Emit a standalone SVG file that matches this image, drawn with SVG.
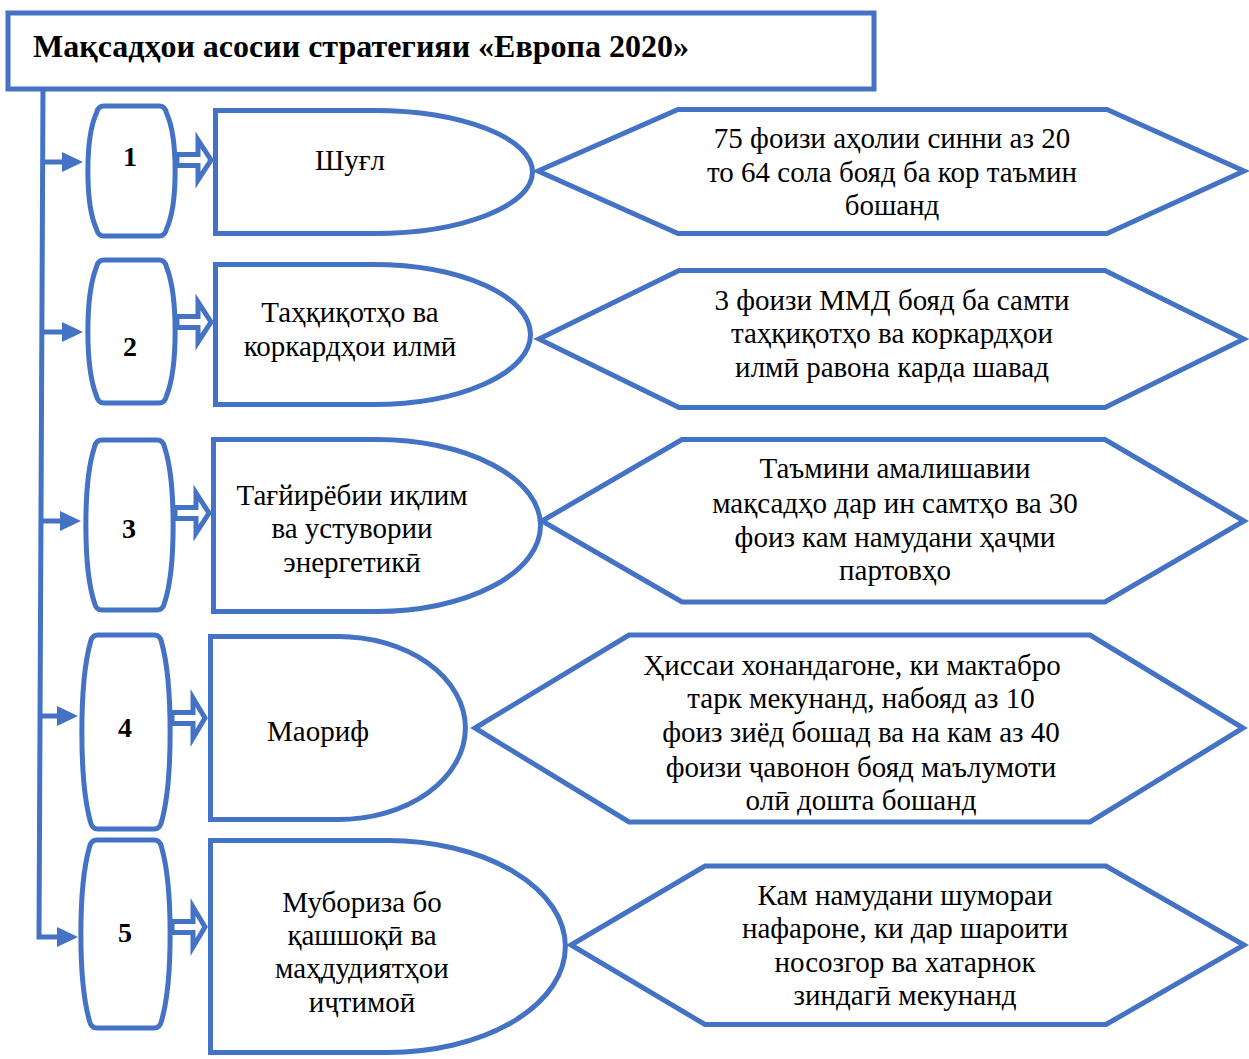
<svg xmlns="http://www.w3.org/2000/svg" width="1249" height="1059" viewBox="0 0 1249 1059">
<defs>
<style>
.sh{fill:#fff;stroke:#4472C4;stroke-width:5;stroke-linejoin:miter}
.ln{fill:none;stroke:#4472C4;stroke-width:5}
.hd{fill:#4472C4;stroke:none}
.t{font-family:"Liberation Serif","Times New Roman",serif;font-size:29px;fill:#000;text-anchor:middle}
.n{font-family:"Liberation Serif","Times New Roman",serif;font-size:28px;font-weight:bold;fill:#000;text-anchor:middle}
.ti{font-family:"Liberation Serif","Times New Roman",serif;font-size:32px;font-weight:bold;fill:#000}
</style>
</defs>
<rect width="1249" height="1059" fill="#fff"/>
<g id="connectors">
<path class="ln" d="M43,90 L39,937 L62,937"/>
<path class="ln" d="M42,162 H64"/>
<path class="ln" d="M42,332 H64"/>
<path class="ln" d="M41,521 H62"/>
<path class="ln" d="M40,716 H59"/>
<polygon class="hd" points="62,152 83,162 62,172"/>
<polygon class="hd" points="62,322 83,332 62,342"/>
<polygon class="hd" points="60,511 81,521 60,531"/>
<polygon class="hd" points="57,706 78,716 57,726"/>
<polygon class="hd" points="57,927 78,937 57,947"/>
<polygon class="sh" points="177,154.5 198,154.5 198,140 211,160 198,180 198,165.5 177,165.5"/>
<polygon class="sh" points="177,316.5 198,316.5 198,302 211,322 198,342 198,327.5 177,327.5"/>
<polygon class="sh" points="175,507.5 196,507.5 196,493 209,513 196,533 196,518.5 175,518.5"/>
<polygon class="sh" points="172,712.5 193,712.5 193,698 205,718 193,738 193,723.5 172,723.5"/>
<polygon class="sh" points="172,921.5 193,921.5 193,907 205,927 193,947 193,932.5 172,932.5"/>
</g>
<g id="title">
<rect class="sh" x="8" y="13" width="866" height="76"/>
<text class="ti" x="33" y="57">Мақсадҳои асосии стратегияи «Европа 2020»</text>
</g>
<g id="num1">
<path class="sh" d="M104,106 H159 Q165,106 166.5,113 C178,138 178,204 166.5,229 Q165,236 159,236 H104 Q98,236 96.5,229 C85,204 85,138 96.5,113 Q98,106 104,106 Z"/>
<text class="n" x="130" y="166">1</text>
</g>
<g id="num2">
<path class="sh" d="M104,260 H159 Q165,260 166.5,267 C178,296 178,367 166.5,396 Q165,403 159,403 H104 Q98,403 96.5,396 C85,367 85,296 96.5,267 Q98,260 104,260 Z"/>
<text class="n" x="130" y="356">2</text>
</g>
<g id="num3">
<path class="sh" d="M102,440 H157 Q163,440 164.5,447 C176,482 176,568 164.5,603 Q163,610 157,610 H102 Q96,610 94.5,603 C83,568 83,482 94.5,447 Q96,440 102,440 Z"/>
<text class="n" x="129" y="538">3</text>
</g>
<g id="num4">
<path class="sh" d="M98,635 H154 Q160,635 161.5,642 C173,683 173,781 161.5,822 Q160,829 154,829 H98 Q92,829 90.5,822 C79,781 79,683 90.5,642 Q92,635 98,635 Z"/>
<text class="n" x="125" y="737">4</text>
</g>
<g id="num5">
<path class="sh" d="M97,840 H154 Q160,840 161.5,847 C173,887 173,981 161.5,1021 Q160,1028 154,1028 H97 Q91,1028 89.5,1021 C78,981 78,887 89.5,847 Q91,840 97,840 Z"/>
<text class="n" x="125" y="942">5</text>
</g>
<g id="goal1">
<path class="sh" d="M215.5,110.5 H374 A158.5,61.5 0 0 1 374,233.5 H215.5 Z"/>
<text class="t" x="350" y="170">Шуғл</text>
</g>
<g id="goal2">
<path class="sh" d="M215.5,264.5 H373 A157.5,70 0 0 1 373,404.5 H215.5 Z"/>
<text class="t" x="350" y="322">Таҳқиқотҳо ва</text>
<text class="t" x="350" y="356">коркардҳои илмӣ</text>
</g>
<g id="goal3">
<path class="sh" d="M213.5,439.5 H377 A163.5,86 0 0 1 377,611.5 H213.5 Z"/>
<text class="t" x="352" y="505">Тағйирёбии иқлим</text>
<text class="t" x="352" y="538">ва устувории</text>
<text class="t" x="352" y="572">энергетикӣ</text>
</g>
<g id="goal4">
<path class="sh" d="M210.5,636.5 H338 A127.5,91.5 0 0 1 338,819.5 H210.5 Z"/>
<text class="t" x="318" y="741">Маориф</text>
</g>
<g id="goal5">
<path class="sh" d="M210.5,840.5 H388 A177.5,106 0 0 1 388,1052.5 H210.5 Z"/>
<text class="t" x="362" y="912">Мубориза бо</text>
<text class="t" x="362" y="945">қашшоқӣ ва</text>
<text class="t" x="362" y="978">маҳдудиятҳои</text>
<text class="t" x="362" y="1012">иҷтимоӣ</text>
</g>
<g id="target1">
<polygon class="sh" points="538,171 678,109.5 1107,109.5 1244,171 1107,233.5 678,233.5"/>
<text class="t" x="892" y="148">75 фоизи аҳолии синни аз 20</text>
<text class="t" x="892" y="182">то 64 сола бояд ба кор таъмин</text>
<text class="t" x="892" y="215">бошанд</text>
</g>
<g id="target2">
<polygon class="sh" points="539,339 679,270.5 1105,270.5 1244,339 1105,407.5 679,407.5"/>
<text class="t" x="892" y="310">3 фоизи ММД бояд ба самти</text>
<text class="t" x="892" y="343">таҳқиқотҳо ва коркардҳои</text>
<text class="t" x="892" y="377">илмӣ равона карда шавад</text>
</g>
<g id="target3">
<polygon class="sh" points="542,521 682,439.5 1105,439.5 1244,521 1105,602 682,602"/>
<text class="t" x="895" y="478">Таъмини амалишавии</text>
<text class="t" x="895" y="513">мақсадҳо дар ин самтҳо ва 30</text>
<text class="t" x="895" y="547">фоиз кам намудани ҳаҷми</text>
<text class="t" x="895" y="580">партовҳо</text>
</g>
<g id="target4">
<polygon class="sh" points="475,728 629,635 1090,635 1243,728 1090,822 629,822"/>
<text class="t" x="852" y="675">Ҳиссаи хонандагоне, ки мактабро</text>
<text class="t" x="861" y="708">тарк мекунанд, набояд аз 10</text>
<text class="t" x="861" y="742">фоиз зиёд бошад ва на кам аз 40</text>
<text class="t" x="861" y="777">фоизи ҷавонон бояд маълумоти</text>
<text class="t" x="861" y="810">олӣ дошта бошанд</text>
</g>
<g id="target5">
<polygon class="sh" points="571,945 705,866 1106,866 1244,945 1106,1024.5 705,1024.5"/>
<text class="t" x="905" y="905">Кам намудани шумораи</text>
<text class="t" x="905" y="938">нафароне, ки дар шароити</text>
<text class="t" x="905" y="972">носозгор ва хатарнок</text>
<text class="t" x="905" y="1005">зиндагӣ мекунанд</text>
</g>
</svg>
